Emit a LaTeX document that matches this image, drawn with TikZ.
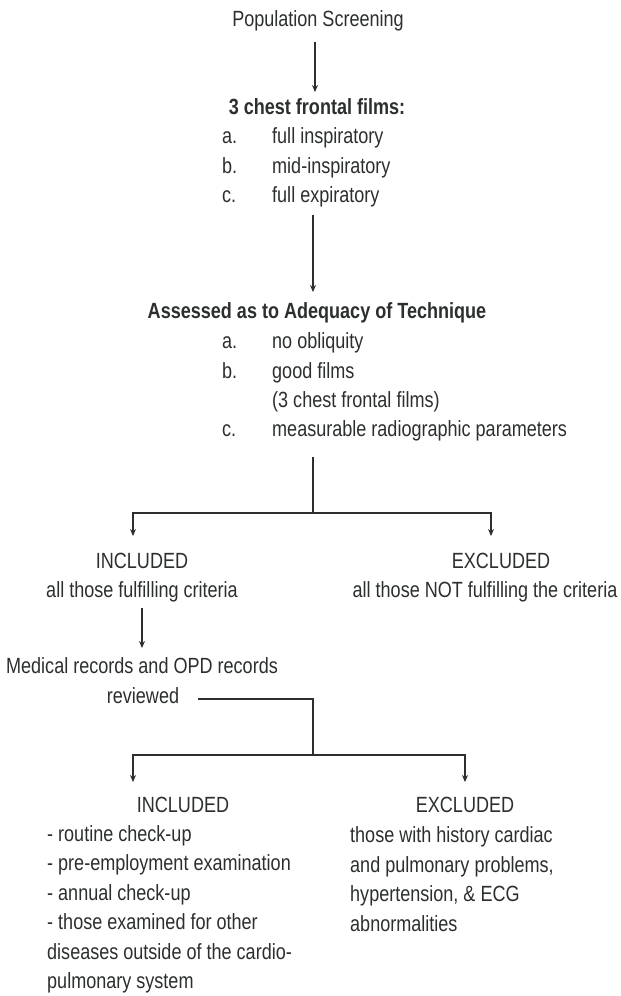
\documentclass[tikz,border=0pt]{standalone}
\usepackage{fontspec}
\setmainfont{Liberation Sans}[FakeStretch=0.82]
\usetikzlibrary{arrows.meta}
\definecolor{ink}{HTML}{2B2F2D}
\begin{document}
\begin{tikzpicture}[x=1pt,y=-1pt,
  txt/.style={inner sep=0pt, text=ink, font=\fontsize{22}{29.5}\selectfont},
  bt/.style={txt, font=\fontsize{22}{29.5}\selectfont\bfseries},
  ln/.style={draw=ink, line width=1.1pt},
  arr/.style={ln, -{Stealth[length=7pt,width=6pt]}}]
\useasboundingbox (0,0) rectangle (621,996);
% texts
\node[txt, anchor=base] (pop) at (318,26) {Population Screening};
\node[bt, anchor=base] (films) at (317,114) {3 chest frontal films:};
\node[txt, anchor=base west] (fa) at (222,143) {a.};
\node[txt, anchor=base west] (fat) at (272,143) {full inspiratory};
\node[txt, anchor=base west] (fb) at (222,173) {b.};
\node[txt, anchor=base west] (fbt) at (272,173) {mid-inspiratory};
\node[txt, anchor=base west] (fc) at (222,202) {c.};
\node[txt, anchor=base west] (fct) at (272,202) {full expiratory};
\node[bt, anchor=base] (assess) at (317,318) {Assessed as to Adequacy of Technique};
\node[txt, anchor=base west] (aa) at (222,348) {a.};
\node[txt, anchor=base west] (aat) at (272,348) {no obliquity};
\node[txt, anchor=base west] (ab) at (222,378) {b.};
\node[txt, anchor=base west] (abt) at (272,378) {good films};
\node[txt, anchor=base west] (abt2) at (272,407) {(3 chest frontal films)};
\node[txt, anchor=base west] (ac) at (222,436) {c.};
\node[txt, anchor=base west] (act) at (272,436) {measurable radiographic parameters};
\node[txt, anchor=base] (inc1) at (142,568) {INCLUDED};
\node[txt, anchor=base] (inc1t) at (142,597) {all those fulfilling criteria};
\node[txt, anchor=base] (exc1) at (501,568) {EXCLUDED};
\node[txt, anchor=base] (exc1t) at (485,597) {all those NOT fulfilling the criteria};
\node[txt, anchor=base] (med) at (142,673) {Medical records and OPD records};
\node[txt, anchor=base] (rev) at (143,703) {reviewed};
\node[txt, anchor=base] (inc2) at (183,812) {INCLUDED};
\node[txt, anchor=base west] (i1) at (47,841) {- routine check-up};
\node[txt, anchor=base west] (i2) at (47,870.5) {- pre-employment examination};
\node[txt, anchor=base west] (i3) at (47,900) {- annual check-up};
\node[txt, anchor=base west] (i4) at (47,929.5) {- those examined for other};
\node[txt, anchor=base west] (i5) at (47,959) {diseases outside of the cardio-};
\node[txt, anchor=base west] (i6) at (47,988) {pulmonary system};
\node[txt, anchor=base] (exc2) at (465,812) {EXCLUDED};
\node[txt, anchor=base west] (e1) at (350,842) {those with history cardiac};
\node[txt, anchor=base west] (e2) at (350,872) {and pulmonary problems,};
\node[txt, anchor=base west] (e3) at (350,901) {hypertension, \& ECG};
\node[txt, anchor=base west] (e4) at (350,931) {abnormalities};
% connector points
\coordinate (p1a) at (315,42);
\coordinate (p1b) at (315,92);
\coordinate (p2a) at (313,215);
\coordinate (p2b) at (313,292);
\coordinate (p3a) at (313,457);
\coordinate (p3b) at (313,513);
\coordinate (p3l) at (133,513);
\coordinate (p3r) at (491,513);
\coordinate (p3lt) at (133,536);
\coordinate (p3rt) at (491,536);
\coordinate (p4a) at (142,608);
\coordinate (p4b) at (142,648);
\coordinate (p5a) at (198,699);
\coordinate (p5c) at (313,699);
\coordinate (p5b) at (313,755);
\coordinate (p5l) at (133,755);
\coordinate (p5r) at (465,755);
\coordinate (p5lt) at (133,782);
\coordinate (p5rt) at (465,782);
% connectors
\draw[arr] (p1a) -- (p1b);
\draw[arr] (p2a) -- (p2b);
\draw[ln] (p3a) -- (p3b);
\draw[arr] (p3b) -- (p3l) -- (p3lt);
\draw[arr] (p3b) -- (p3r) -- (p3rt);
\draw[arr] (p4a) -- (p4b);
\draw[ln] (p5a) -- (p5c) -- (p5b);
\draw[arr] (p5b) -- (p5l) -- (p5lt);
\draw[arr] (p5b) -- (p5r) -- (p5rt);
\end{tikzpicture}
\end{document}
